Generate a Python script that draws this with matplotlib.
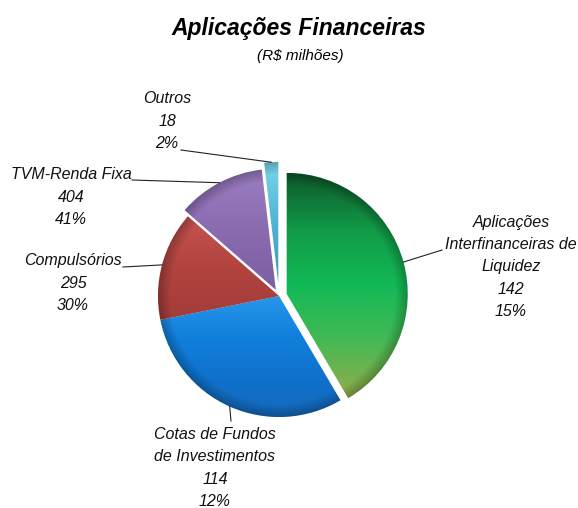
import numpy as np
import matplotlib
matplotlib.use("Agg")
import matplotlib.pyplot as plt
from matplotlib.colors import LinearSegmentedColormap

# --- DADOS ---
# fatias no sentido horario a partir do topo (como aparecem no grafico)
fatias = [404, 295, 142, 114, 18]
# rotulos como aparecem ao lado de cada fatia
nomes = ["Aplicações\nInterfinanceiras de\nLiquidez",
         "Cotas de Fundos\nde Investimentos",
         "Compulsórios",
         "TVM-Renda Fixa",
         "Outros"]
valores_rotulo = [142, 114, 295, 404, 18]
pct_rotulo = [15, 12, 30, 41, 2]

# --- ESTILO ---
W, H = 578, 508
explode = [8, 0, 0, 7, 13]   # em pixels (unidades do eixo)
gradientes = [
    ["#0e5a2b", "#119a47", "#13b957", "#45b955", "#93ad4a"],
    ["#2796ea", "#1180dc", "#0f72cc", "#1569bd"],
    ["#c4544f", "#b2433f", "#a33c39"],
    ["#9b7dc2", "#8a6bb0", "#7c5ea2"],
    ["#78d6ee", "#4fb4d2", "#3a9cba"],
]
pos_texto = [(511, 267), (215, 468), (73, 283), (71, 197), (167, 121)]
ponta_linha = [(442, 250), (231, 421), (123, 267), (132, 180), (181, 150)]
FONTE = ["Liberation Sans", "DejaVu Sans"]


def py(y):
    # converte y de pixel (topo=0) para coordenada do eixo
    return H - y


fig = plt.figure(figsize=(W / 100, H / 100), dpi=100)
ax = fig.add_axes([0, 0, 1, 1])

wedges, _ = ax.pie(fatias, explode=explode, startangle=90, counterclock=False,
                   center=(279, py(296)), radius=121,
                   wedgeprops=dict(edgecolor="white", linewidth=0.6))
ax.set_xlim(0, W)
ax.set_ylim(0, H)
ax.set_aspect("equal")
ax.axis("off")

# --- SOMBREAMENTO (gradiente dentro de cada fatia) ---
for w, cores in zip(wedges, gradientes):
    cmap = LinearSegmentedColormap.from_list("g", cores)
    w.set_facecolor(cores[len(cores) // 2])
    cx, cy = w.center
    r = w.r
    v = w.get_path().vertices
    y0, y1 = v[:, 1].min(), v[:, 1].max()
    xs = np.linspace(cx - r, cx + r, 240)
    ys = np.linspace(cy - r, cy + r, 240)
    X, Y = np.meshgrid(xs, ys)
    t = np.clip((y1 - Y) / max(y1 - y0, 1), 0, 1)
    rgb = cmap(t)[..., :3]
    rr = np.hypot(X - cx, Y - cy) / r
    sombra = 1 - 0.25 * np.clip((rr - 0.9) / 0.1, 0, 1)
    rgb = rgb * sombra[..., None]
    im = ax.imshow(rgb, extent=[cx - r, cx + r, cy - r, cy + r], origin="lower",
                   interpolation="bilinear", zorder=2)
    im.set_clip_path(w)

# --- ROTULOS ---
for w, nome, val, pct, (tx, ty), (lx, lyy) in zip(wedges, nomes, valores_rotulo,
                                                  pct_rotulo, pos_texto, ponta_linha):
    ang = np.deg2rad((w.theta1 + w.theta2) / 2)
    ax_, ay_ = w.center[0] + w.r * np.cos(ang), w.center[1] + w.r * np.sin(ang)
    ax.plot([lx, ax_], [py(lyy), ay_], color="#222222", lw=0.8, zorder=3)
    ax.text(tx, py(ty), f"{nome}\n{val}\n{pct}%", ha="center", va="center",
            multialignment="center", fontsize=11.5, style="italic",
            family=FONTE, linespacing=1.6, color="#111111", zorder=4)

# --- TITULO ---
ax.text(299, py(28), "Aplicações Financeiras", ha="center", va="center",
        fontsize=16.5, weight="bold", style="italic", family=FONTE)
ax.text(300, py(56), "(R$ milhões)", ha="center", va="center",
        fontsize=11, style="italic", family=FONTE)

fig.savefig("out.png", dpi=100)
